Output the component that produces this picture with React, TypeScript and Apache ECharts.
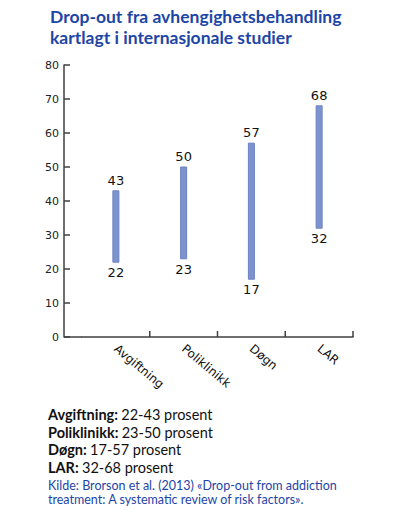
import React, { useEffect, useRef } from "react";
import * as echarts from "echarts";

// Drop-out ranges (percent) per treatment type
const categories = ["Avgiftning", "Poliklinikk", "Døgn", "LAR"];
const lowValues = [22, 23, 17, 32];
const highValues = [43, 50, 57, 68];
const yTicks = [0, 10, 20, 30, 40, 50, 60, 70, 80];

const titleLines = [
  "Drop-out fra avhengighetsbehandling",
  "kartlagt i internasjonale studier",
];
const sourceLines = [
  "Kilde: Brorson et al. (2013) «Drop-out from addiction",
  "treatment: A systematic review of risk factors».",
];

const BLUE = "#1d45a6";
const BAR_FILL = "#7c93cd";
const BAR_EDGE = "#6a82c2";
const AXIS = "#404040";

const GRID = { left: 82, right: 47, top: 65, bottom: 179 };
const Y_AXIS_OFFSET = 18;
const TICK_LEN = 6;
const TICK_W = 1.5;

export default function App() {
  const ref = useRef<HTMLDivElement>(null);

  useEffect(() => {
    if (!ref.current) return;
    const chart = echarts.init(ref.current, undefined, { renderer: "svg" });

    const rangeData = categories.map((_, i) => [i, lowValues[i], highValues[i]]);

    const summaryText = categories
      .map((c, i) => `{b|${c}:} {n|${lowValues[i]}-${highValues[i]} prosent}`)
      .join("\n");

    const textGraphics: any[] = [
      {
        id: "title",
        type: "text",
        left: 50,
        top: 6,
        style: {
          text: titleLines.join("\n"),
          fill: BLUE,
          fontFamily: "Lato",
          fontWeight: "bold",
          fontSize: 17.5,
          lineHeight: 21,
        },
      },
      {
        id: "summary",
        type: "text",
        left: 48,
        top: 406,
        style: {
          text: summaryText,
          lineHeight: 17.5,
          rich: {
            b: { fontFamily: "Lato", fontWeight: "bold", fontSize: 14.5, fill: "#111", lineHeight: 17.5 },
            n: { fontFamily: "Lato", fontSize: 14.5, fill: "#111", lineHeight: 17.5 },
          },
        },
      },
      {
        id: "source",
        type: "text",
        left: 48,
        top: 478,
        style: {
          text: sourceLines.join("\n"),
          fill: BLUE,
          fontFamily: "Lato",
          fontSize: 12.5,
          lineHeight: 14,
        },
      },
    ];

    chart.setOption({
      animation: false,
      backgroundColor: "#ffffff",
      grid: GRID,
      xAxis: {
        type: "category",
        data: categories,
        boundaryGap: true,
        axisLine: { show: true, lineStyle: { color: AXIS, width: 1.5 } },
        axisTick: { show: false },
        axisLabel: {
          interval: 0,
          rotate: -40,
          margin: 10,
          fontFamily: "DejaVu Sans",
          fontSize: 12,
          color: "#111",
        },
      },
      yAxis: {
        type: "value",
        min: 0,
        max: 80,
        interval: 10,
        offset: Y_AXIS_OFFSET,
        splitLine: { show: false },
        axisLine: { show: true, onZero: false, lineStyle: { color: AXIS, width: 1.5 } },
        axisTick: { show: true, inside: true, length: TICK_LEN, lineStyle: { color: AXIS, width: 1.5 } },
        axisLabel: {
          formatter: (v: number) => (yTicks.includes(v) ? String(v) : ""),
          margin: 5,
          fontFamily: "DejaVu Sans",
          fontSize: 11,
          color: "#222",
        },
      },
      series: [
        {
          type: "custom",
          clip: false,
          data: rangeData,
          encode: { x: 0, y: [1, 2] },
          renderItem: (_params: any, api: any) => {
            const x = api.value(0);
            const lo = api.value(1);
            const hi = api.value(2);
            const top = api.coord([x, hi]);
            const bottom = api.coord([x, lo]);
            const base = api.coord([x, 0]);
            const band = api.size([1, 0])[0];
            const boundaryX = base[0] + band / 2;
            const w = 6;
            return {
              type: "group",
              children: [
                // upward tick on the right-hand boundary of this category's band
                {
                  type: "rect",
                  shape: { x: boundaryX - TICK_W / 2, y: base[1] - TICK_LEN, width: TICK_W, height: TICK_LEN },
                  style: { fill: AXIS },
                },
                {
                  type: "rect",
                  shape: { x: top[0] - w / 2, y: top[1], width: w, height: bottom[1] - top[1] },
                  style: { fill: BAR_FILL, stroke: BAR_EDGE, lineWidth: 1 },
                },
                {
                  type: "text",
                  x: top[0],
                  y: top[1] - 4,
                  style: {
                    text: String(hi),
                    fill: "#111",
                    fontFamily: "DejaVu Sans",
                    fontSize: 13,
                    align: "center",
                    verticalAlign: "bottom",
                  },
                },
                {
                  type: "text",
                  x: bottom[0],
                  y: bottom[1] + 4,
                  style: {
                    text: String(lo),
                    fill: "#111",
                    fontFamily: "DejaVu Sans",
                    fontSize: 13,
                    align: "center",
                    verticalAlign: "top",
                  },
                },
              ],
            };
          },
        },
      ],
      graphic: textGraphics,
    });

    // Axis-line stub reaching left to the offset y axis
    const c0 = Number(chart.convertToPixel({ xAxisIndex: 0 }, 0));
    const c1 = Number(chart.convertToPixel({ xAxisIndex: 0 }, 1));
    const yBase = Number(chart.convertToPixel({ yAxisIndex: 0 }, 0));
    const plotW = chart.getWidth() - GRID.left - GRID.right;
    const band = Number.isFinite(c1 - c0) && c1 - c0 > 0 ? c1 - c0 : plotW / categories.length;
    const first = Number.isFinite(c0) ? c0 : GRID.left + band / 2;
    const base = Number.isFinite(yBase) ? yBase : chart.getHeight() - GRID.bottom;
    const bandLeft = first - band / 2;

    chart.setOption(
      {
        graphic: [
          ...textGraphics,
          {
            id: "axisStub",
            type: "rect",
            z: 100,
            shape: { x: bandLeft - Y_AXIS_OFFSET, y: base - 0.75, width: Y_AXIS_OFFSET, height: 1.5 },
            style: { fill: AXIS },
          },
        ],
      },
      { replaceMerge: ["graphic"] }
    );

    return () => chart.dispose();
  }, []);

  return <div ref={ref} style={{ width: 400, height: 516, margin: -8 }} />;
}
